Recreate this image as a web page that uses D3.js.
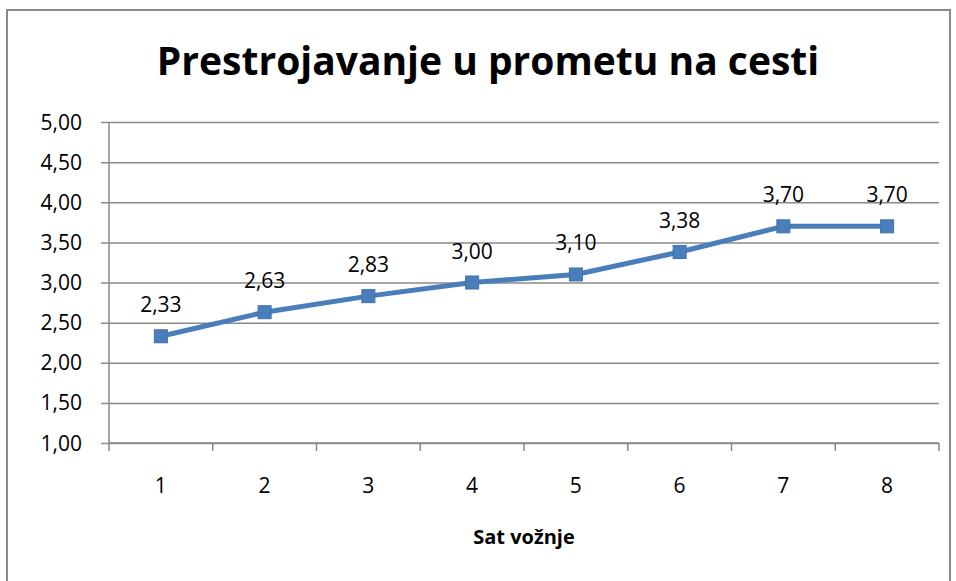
<!DOCTYPE html>
<html>
<head>
<meta charset="utf-8">
<script src="https://cdn.jsdelivr.net/npm/d3@7"></script>
<style>
  body { margin: 0; background: #fff; }
  text { font-family: "Open Sans", Lato, sans-serif; fill: #000; }
</style>
</head>
<body>
<div id="chart"></div>
<script>
// chart data
var hours = [1, 2, 3, 4, 5, 6, 7, 8];
var scores = [2.33, 2.63, 2.83, 3.00, 3.10, 3.38, 3.70, 3.70];
var yTicks = [1.0, 1.5, 2.0, 2.5, 3.0, 3.5, 4.0, 4.5, 5.0];
var chartTitle = "Prestrojavanje u prometu na cesti";
var xTitle = "Sat vožnje";

var svgWidth = 956;
var svgHeight = 581;

var margin = { top: 122, right: 17, bottom: 138, left: 109 };
var width = svgWidth - margin.left - margin.right;
var height = svgHeight - margin.top - margin.bottom;

var gray = "#8a8a8a";
var blue = "#4a7ebb";

// comma as decimal separator
var fmt = function(v) { return d3.format(".2f")(v).replace(".", ","); };

var svg = d3.select("#chart")
  .append("svg")
  .attr("width", svgWidth)
  .attr("height", svgHeight);

// outer chart border
svg.append("rect")
  .attr("x", 7)
  .attr("y", 10)
  .attr("width", 943)
  .attr("height", 600)
  .attr("fill", "none")
  .attr("stroke", gray)
  .attr("stroke-width", 2);

svg.append("text")
  .attr("x", 488)
  .attr("y", 75)
  .attr("text-anchor", "middle")
  .attr("font-size", "39px")
  .attr("font-weight", "bold")
  .text(chartTitle);

var chartGroup = svg.append("g")
  .attr("transform", `translate(${margin.left}, ${margin.top})`);

// scales
var xScale = d3.scaleBand()
  .domain(hours)
  .range([0, width])
  .padding(0);

var yScale = d3.scaleLinear()
  .domain([1, 5])
  .range([height, 0]);

// horizontal gridlines with little ticks left of the axis
chartGroup.append("g")
  .call(d3.axisLeft(yScale).tickValues(yTicks).tickSize(-width - 8).tickFormat(""))
  .attr("transform", "translate(-8,0)")
  .call(g => g.select(".domain").remove())
  .selectAll("line")
  .attr("x1", 0)
  .attr("x2", width + 8)
  .attr("stroke", gray)
  .attr("stroke-width", 1.5);

// y labels
chartGroup.append("g")
  .selectAll("text")
  .data(yTicks)
  .enter()
  .append("text")
  .attr("x", -27)
  .attr("y", d => yScale(d))
  .attr("dy", "0.36em")
  .attr("text-anchor", "end")
  .attr("font-size", "21px")
  .text(d => fmt(d));

// y axis line
chartGroup.append("line")
  .attr("x1", 0).attr("x2", 0)
  .attr("y1", 0).attr("y2", height)
  .attr("stroke", gray)
  .attr("stroke-width", 1.5);

// x axis line + ticks at band edges
chartGroup.append("line")
  .attr("x1", 0).attr("x2", width)
  .attr("y1", height).attr("y2", height)
  .attr("stroke", gray)
  .attr("stroke-width", 1.5);

var edges = hours.map(d => xScale(d)).concat([width]);
chartGroup.selectAll(".xtick")
  .data(edges)
  .enter()
  .append("line")
  .attr("class", "xtick")
  .attr("x1", d => d).attr("x2", d => d)
  .attr("y1", height).attr("y2", height + 8)
  .attr("stroke", gray)
  .attr("stroke-width", 1.5);

// x labels
chartGroup.selectAll(".xlabel")
  .data(hours)
  .enter()
  .append("text")
  .attr("class", "xlabel")
  .attr("x", d => xScale(d) + xScale.bandwidth() / 2)
  .attr("y", height + 50)
  .attr("text-anchor", "middle")
  .attr("font-size", "21px")
  .text(d => d);

// x axis title
chartGroup.append("text")
  .attr("x", width / 2)
  .attr("y", height + 101)
  .attr("text-anchor", "middle")
  .attr("font-size", "20px")
  .attr("font-weight", "bold")
  .text(xTitle);

// line
var cx = (d, i) => xScale(hours[i]) + xScale.bandwidth() / 2;
var line = d3.line()
  .x(cx)
  .y(d => yScale(d));

chartGroup.append("path")
  .datum(scores)
  .attr("d", line)
  .attr("fill", "none")
  .attr("stroke", blue)
  .attr("stroke-width", 5)
  .attr("stroke-linejoin", "round");

// square markers
var msize = 13;
chartGroup.selectAll(".marker")
  .data(scores)
  .enter()
  .append("rect")
  .attr("class", "marker")
  .attr("x", (d, i) => cx(d, i) - msize / 2)
  .attr("y", d => yScale(d) - msize / 2)
  .attr("width", msize)
  .attr("height", msize)
  .attr("fill", blue)
  .attr("stroke", "#3f72b0")
  .attr("stroke-width", 1);

// data labels
chartGroup.selectAll(".dlabel")
  .data(scores)
  .enter()
  .append("text")
  .attr("class", "dlabel")
  .attr("x", (d, i) => cx(d, i))
  .attr("y", d => yScale(d) - 24)
  .attr("text-anchor", "middle")
  .attr("font-size", "21px")
  .text(d => fmt(d));
</script>
</body>
</html>
